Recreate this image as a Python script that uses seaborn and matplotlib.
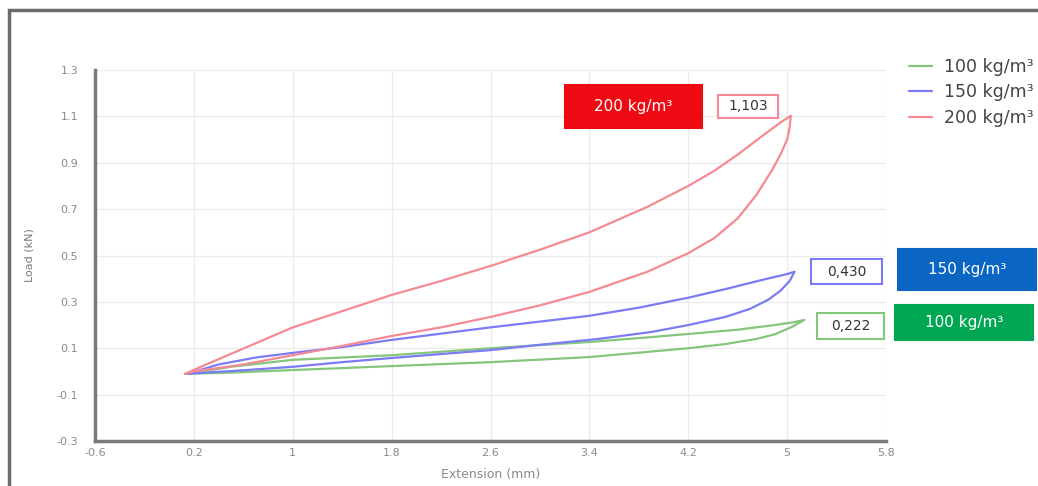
import numpy as np
import pandas as pd
import matplotlib
matplotlib.use("Agg")
import matplotlib.pyplot as plt
from matplotlib.patches import Rectangle
import seaborn as sns

# Hysteresis loops (loading branch, then unloading back)

densities = ['100 kg/m³', '150 kg/m³', '200 kg/m³']

ext_100 = [0.15, 0.5, 1.0, 1.8, 2.6, 3.4, 3.9, 4.275, 4.6, 4.9, 5.05, 5.14,
           5.03, 4.9, 4.75, 4.5, 4.2, 3.4, 2.6, 1.8, 1.0, 0.5, 0.15]
load_100 = [-0.01, 0.02, 0.05, 0.07, 0.10, 0.127, 0.148, 0.165, 0.18, 0.20, 0.212, 0.222,
            0.19, 0.16, 0.14, 0.118, 0.10, 0.062, 0.04, 0.023, 0.006, -0.005, -0.01]

ext_150 = [0.15, 0.4, 0.7, 1.0, 1.4, 1.8, 2.2, 2.6, 3.0, 3.4, 3.8, 4.2, 4.5, 4.8, 5.0, 5.06,
           5.02, 4.95, 4.85, 4.7, 4.5, 4.2, 3.9, 3.47, 3.0, 2.6, 2.2, 1.8, 1.4, 1.0, 0.6, 0.15]
load_150 = [-0.01, 0.03, 0.06, 0.08, 0.105, 0.136, 0.163, 0.19, 0.215, 0.24, 0.275, 0.318, 0.355, 0.395, 0.42, 0.43,
            0.39, 0.35, 0.31, 0.27, 0.235, 0.20, 0.17, 0.14, 0.115, 0.092, 0.075, 0.058, 0.04, 0.02, 0.005, -0.01]

ext_200 = [0.13, 0.3, 0.65, 1.0, 1.4, 1.8, 2.2, 2.6, 3.0, 3.4, 3.87, 4.2, 4.41, 4.6, 4.81, 4.95, 5.03,
           5.02, 5.0, 4.95, 4.88, 4.75, 4.6, 4.41, 4.2, 3.87, 3.4, 3.0, 2.6, 2.2, 1.8, 1.4, 1.0, 0.6, 0.2, 0.13]
load_200 = [-0.01, 0.03, 0.11, 0.19, 0.26, 0.33, 0.39, 0.455, 0.525, 0.60, 0.71, 0.80, 0.865, 0.935, 1.02, 1.075, 1.103,
            1.05, 1.0, 0.94, 0.87, 0.76, 0.66, 0.575, 0.51, 0.43, 0.343, 0.285, 0.235, 0.19, 0.153, 0.11, 0.07, 0.03, 0.0, -0.01]

peak_labels = ['0,222', '0,430', '1,103']

xticks = [-0.6, 0.2, 1.0, 1.8, 2.6, 3.4, 4.2, 5.0, 5.8]
xtick_labels = ['-0.6', '0.2', '1', '1.8', '2.6', '3.4', '4.2', '5', '5.8']
yticks = [-0.3, -0.1, 0.1, 0.3, 0.5, 0.7, 0.9, 1.1, 1.3]
ytick_labels = ['-0.3', '-0.1', '0.1', '0.3', '0.5', '0.7', '0.9', '1.1', '1.3']

line_colors = ['#84c67a', '#7b7bf5', '#f58a94']
fill_colors = ['#00a651', '#0a66c2', '#ee0a12']

frames = []
for name, xs, ys in zip(densities, [ext_100, ext_150, ext_200], [load_100, load_150, load_200]):
    frames.append(pd.DataFrame({'ext': xs, 'load': ys, 'density': name}))
df = pd.concat(frames, ignore_index=True)

sns.set_style('whitegrid')
W, H = 1038, 486
fig = plt.figure(figsize=(W / 100, H / 100), dpi=100)
ax = fig.add_axes([95 / W, 1 - 441 / H, (886 - 95) / W, (441 - 70) / H])

sns.lineplot(data=df, x='ext', y='load', hue='density', palette=line_colors,
             sort=False, estimator=None, linewidth=1.6, ax=ax)

ax.set_xlim(-0.6, 5.8)
ax.set_ylim(-0.3, 1.3)
ax.set_xticks(xticks)
ax.set_xticklabels(xtick_labels)
ax.set_yticks(yticks)
ax.set_yticklabels(ytick_labels)
ax.tick_params(length=0, labelsize=8, colors='#8a8a8a')
ax.tick_params(axis='y', pad=12)
ax.tick_params(axis='x', pad=5)
ax.grid(color='#ececec', linewidth=1)
for s in ['top', 'right']:
    ax.spines[s].set_visible(False)
for s in ['left', 'bottom']:
    ax.spines[s].set_color('#7a7a7a')
    ax.spines[s].set_linewidth(2.5)

ax.set_xlabel('Extension (mm)', fontsize=9, color='#8a8a8a')
ax.set_ylabel('Load (kN)', fontsize=8, color='#7a7a7a')
ax.xaxis.set_label_coords(0.5, -0.072)
ax.yaxis.set_label_coords(-0.076, 0.5)

leg = ax.legend(loc='upper left', bbox_to_anchor=(909 / W, 1 - 58 / H),
                bbox_transform=fig.transFigure, frameon=False, fontsize=12.5,
                handlelength=1.3, handletextpad=0.7, labelspacing=0.42,
                borderpad=0, borderaxespad=0)
for t in leg.get_texts():
    t.set_color('#444444')
for l in leg.get_lines():
    l.set_linewidth(1.6)

# outer frame around the picture
fig.patches.append(Rectangle((9 / W, -0.2), 1.2, 1 - 10 / H + 0.2, transform=fig.transFigure,
                             fill=False, edgecolor='#6a6a6a', linewidth=2.5))


def box(x0, y0, x1, y1, text, face, edge, color, size, weight='normal'):
    fig.patches.append(Rectangle((x0 / W, 1 - y1 / H), (x1 - x0) / W, (y1 - y0) / H,
                                 transform=fig.transFigure, facecolor=face,
                                 edgecolor=edge, linewidth=1.5))
    fig.text((x0 + x1) / 2 / W, 1 - (y0 + y1) / 2 / H, text, ha='center', va='center',
             color=color, fontsize=size, fontweight=weight)


box(565, 85, 702, 128, densities[2], fill_colors[2], fill_colors[2], 'white', 11)
box(898, 249, 1036, 290, densities[1], fill_colors[1], fill_colors[1], 'white', 11)
box(895, 305, 1033, 340, densities[0], fill_colors[0], fill_colors[0], 'white', 11)
box(718, 95, 778, 118, peak_labels[2], 'white', line_colors[2], '#333333', 10)
box(811, 259, 882, 284, peak_labels[1], 'white', line_colors[1], '#333333', 10)
box(817, 313, 884, 339, peak_labels[0], 'white', line_colors[0], '#333333', 10)

fig.savefig('out.png', dpi=100)
